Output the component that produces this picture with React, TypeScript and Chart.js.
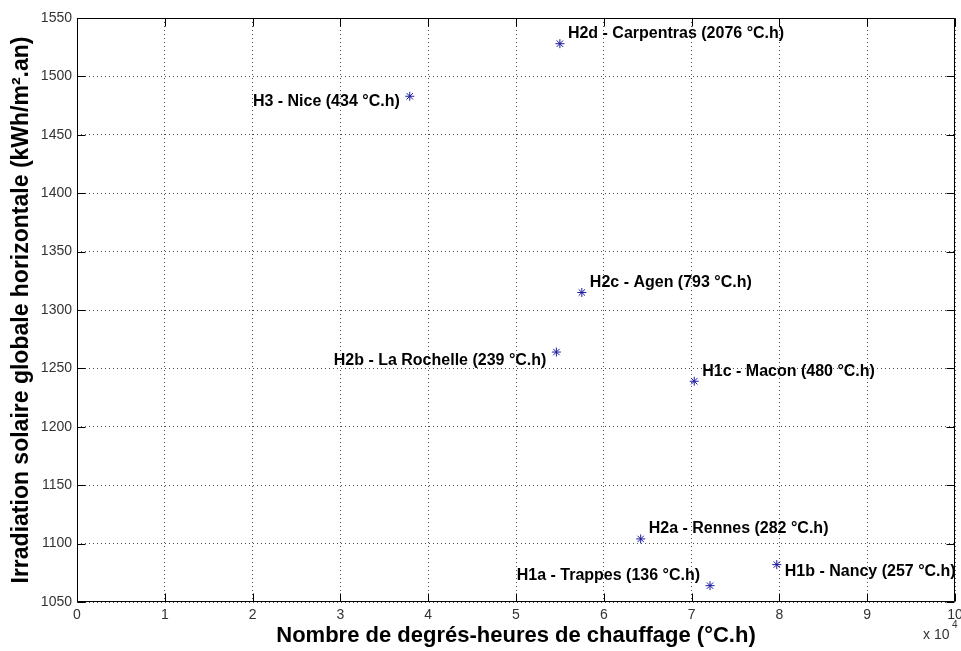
import React, { useEffect, useRef } from "react";
import { Chart, registerables } from "chart.js";

Chart.register(...registerables);

const stationLabels = [
  "H2d - Carpentras (2076 °C.h)",
  "H3 - Nice (434 °C.h)",
  "H2c - Agen (793 °C.h)",
  "H2b - La Rochelle (239 °C.h)",
  "H1c - Macon (480 °C.h)",
  "H2a - Rennes (282 °C.h)",
  "H1a - Trappes (136 °C.h)",
  "H1b - Nancy (257 °C.h)",
];
const degreeHours = [55000, 37900, 57500, 54600, 70300, 64200, 72100, 79700];
const irradiation = [1528, 1483, 1315, 1264, 1239, 1104, 1064, 1082];
const labelSide = ["right", "left", "right", "left", "right", "right", "left", "right"];
const labelShiftY = [-10, 5, -10, 9, -10, -10, -10, 7];

const xTitle = "Nombre de degrés-heures de chauffage (°C.h)";
const yTitle = "Irradiation solaire globale horizontale (kWh/m².an)";
const xMin = 0;
const xMax = 100000;
const xStep = 10000;
const yMin = 1050;
const yMax = 1550;
const yStep = 50;
const xExponentBase = "x 10";
const xExponent = "4";

const FONT = '"Liberation Sans", Arial, Helvetica, sans-serif';

const overlayPlugin = {
  id: "overlay",
  afterDraw(chart: any) {
    const ctx = chart.ctx;
    const { left, right, top, bottom } = chart.chartArea;
    const xs = chart.scales.x;
    const ys = chart.scales.y;
    ctx.save();
    // frame
    const L = Math.round(left) + 0.5;
    const R = Math.round(right) - 0.5;
    const T = Math.round(top) + 0.5;
    const B = Math.round(bottom) - 0.5;
    ctx.strokeStyle = "#000";
    ctx.lineWidth = 1;
    ctx.setLineDash([]);
    ctx.beginPath();
    ctx.rect(L, T, R - L, B - T);
    ctx.stroke();
    // inward tick marks
    const tl = 8;
    ctx.beginPath();
    xs.ticks.forEach((t: any) => {
      const px = Math.round(xs.getPixelForValue(t.value)) + 0.5;
      ctx.moveTo(px, B);
      ctx.lineTo(px, B - tl);
      ctx.moveTo(px, T);
      ctx.lineTo(px, T + tl);
    });
    ys.ticks.forEach((t: any) => {
      const py = Math.round(ys.getPixelForValue(t.value)) + 0.5;
      ctx.moveTo(L, py);
      ctx.lineTo(L + tl, py);
      ctx.moveTo(R, py);
      ctx.lineTo(R - tl, py);
    });
    ctx.stroke();
    // point labels
    ctx.fillStyle = "#000";
    ctx.font = `bold 16px ${FONT}`;
    ctx.textBaseline = "middle";
    stationLabels.forEach((lab, i) => {
      const px = xs.getPixelForValue(degreeHours[i]);
      const py = ys.getPixelForValue(irradiation[i]);
      if (labelSide[i] === "right") {
        ctx.textAlign = "left";
        ctx.fillText(lab, px + 8, py + labelShiftY[i]);
      } else {
        ctx.textAlign = "right";
        ctx.fillText(lab, px - 10, py + labelShiftY[i]);
      }
    });
    // x exponent
    ctx.fillStyle = "#333";
    ctx.textAlign = "left";
    ctx.textBaseline = "alphabetic";
    ctx.font = `14px ${FONT}`;
    ctx.fillText(xExponentBase, 923, 639);
    ctx.font = `10px ${FONT}`;
    ctx.fillText(xExponent, 952, 628);
    ctx.restore();
  },
};

export default function App() {
  const ref = useRef<HTMLCanvasElement>(null);
  useEffect(() => {
    document.body.style.margin = "0";
    document.body.style.background = "#fff";
    const canvas = ref.current!;
    const data = degreeHours.map((x, i) => ({ x, y: irradiation[i] }));
    const chart = new Chart(canvas, {
      type: "scatter",
      data: {
        datasets: [
          {
            data,
            pointStyle: "star",
            pointRadius: 4.5,
            pointHoverRadius: 4.5,
            borderColor: "#1a1aa0",
            backgroundColor: "#1a1aa0",
            borderWidth: 1,
          },
        ],
      },
      options: {
        responsive: false,
        animation: false,
        devicePixelRatio: 1,
        layout: { padding: { top: 18, right: 6, bottom: 0, left: 0 } },
        plugins: { legend: { display: false }, tooltip: { enabled: false } },
        scales: {
          x: {
            type: "linear",
            min: xMin,
            max: xMax,
            ticks: {
              stepSize: xStep,
              autoSkip: false,
              maxRotation: 0,
              padding: 5,
              color: "#333",
              font: { family: FONT, size: 14 },
              callback: (v: any) => String(Number(v) / xStep),
            },
            grid: { color: "rgba(0,0,0,0.7)", drawTicks: false, lineWidth: 1 },
            border: { display: false, dash: [1, 3] },
            title: {
              display: true,
              text: xTitle,
              color: "#000",
              font: { family: FONT, size: 22, weight: "bold" },
              padding: { top: 0, bottom: 2 },
            },
            afterFit: (s: any) => {
              s.height = 49;
              s.paddingLeft = 0;
              s.paddingRight = 0;
            },
          },
          y: {
            type: "linear",
            min: yMin,
            max: yMax,
            ticks: {
              stepSize: yStep,
              autoSkip: false,
              padding: 5,
              color: "#333",
              font: { family: FONT, size: 14 },
              callback: (v: any) => String(v),
            },
            grid: { color: "rgba(0,0,0,0.7)", drawTicks: false, lineWidth: 1 },
            border: { display: false, dash: [1, 3] },
            title: {
              display: true,
              text: yTitle,
              color: "#000",
              font: { family: FONT, size: 23, weight: "bold" },
              padding: { top: 8, bottom: 0 },
            },
            afterFit: (s: any) => {
              s.width = 77;
              s.paddingTop = 0;
              s.paddingBottom = 0;
            },
          },
        },
      },
      plugins: [overlayPlugin],
    } as any);
    return () => chart.destroy();
  }, []);
  return (
    <div style={{ width: 961, height: 651, background: "#fff" }}>
      <canvas ref={ref} width={961} height={651} />
    </div>
  );
}
